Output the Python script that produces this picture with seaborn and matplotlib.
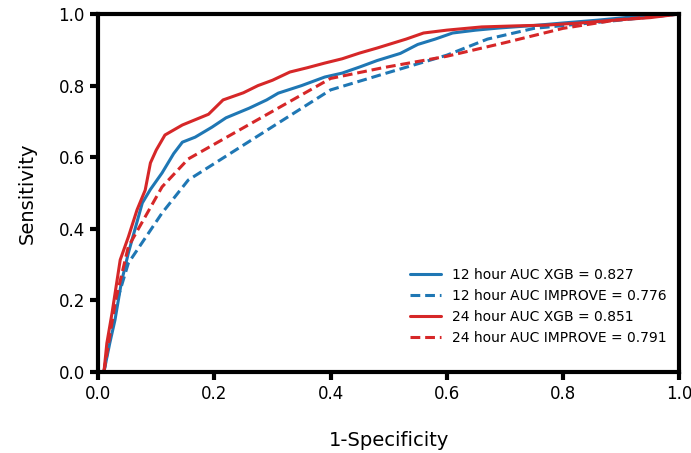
import numpy as np
import pandas as pd
import matplotlib
matplotlib.use("Agg")
import matplotlib.pyplot as plt
import seaborn as sns

# ROC points
fpr_12_xgb = [0.01, 0.02, 0.029, 0.04, 0.052, 0.076, 0.09, 0.11, 0.13, 0.145, 0.167, 0.196,
              0.22, 0.26, 0.29, 0.31, 0.35, 0.39, 0.42, 0.45, 0.48, 0.52, 0.55, 0.58, 0.61,
              0.65, 0.69, 0.75, 0.80, 0.86, 0.92, 0.96, 1.0]
tpr_12_xgb = [0.0, 0.08, 0.145, 0.25, 0.332, 0.472, 0.51, 0.556, 0.61, 0.642, 0.656, 0.684,
              0.71, 0.737, 0.76, 0.779, 0.80, 0.824, 0.835, 0.852, 0.87, 0.89, 0.915, 0.93, 0.947,
              0.955, 0.961, 0.968, 0.975, 0.983, 0.992, 0.995, 1.0]

fpr_12_imp = [0.01, 0.029, 0.052, 0.11, 0.155, 0.40, 0.49, 0.60, 0.67, 0.75, 0.88, 1.0]
tpr_12_imp = [0.0, 0.18, 0.304, 0.444, 0.536, 0.788, 0.832, 0.885, 0.93, 0.96, 0.98, 1.0]

fpr_24_xgb = [0.01, 0.015, 0.024, 0.038, 0.052, 0.067, 0.081, 0.09, 0.10, 0.115, 0.145, 0.16,
              0.19, 0.215, 0.25, 0.275, 0.30, 0.33, 0.36, 0.39, 0.42, 0.45, 0.48, 0.50, 0.53,
              0.56, 0.60, 0.66, 0.72, 0.77, 0.83, 0.89, 0.95, 1.0]
tpr_24_xgb = [0.0, 0.08, 0.165, 0.313, 0.377, 0.453, 0.508, 0.584, 0.62, 0.662, 0.69, 0.70,
              0.72, 0.76, 0.78, 0.80, 0.815, 0.838, 0.85, 0.863, 0.875, 0.891, 0.905, 0.915, 0.93,
              0.947, 0.955, 0.964, 0.967, 0.969, 0.975, 0.983, 0.99, 1.0]

fpr_24_imp = [0.01, 0.03, 0.052, 0.11, 0.155, 0.40, 0.49, 0.60, 0.70, 0.80, 0.89, 1.0]
tpr_24_imp = [0.0, 0.20, 0.35, 0.517, 0.595, 0.82, 0.85, 0.882, 0.92, 0.96, 0.983, 1.0]

labels = ["12 hour AUC XGB = 0.827", "12 hour AUC IMPROVE = 0.776",
          "24 hour AUC XGB = 0.851", "24 hour AUC IMPROVE = 0.791"]
ticks = [0.0, 0.2, 0.4, 0.6, 0.8, 1.0]

sns.set_style("ticks")
plt.rcParams['font.family'] = ['DejaVu Sans']
plt.rcParams['text.color'] = 'black'
plt.rcParams['axes.labelcolor'] = 'black'

fig = plt.figure(figsize=(6.91, 4.53), dpi=100)
ax = fig.add_axes([0.142, 0.179, 0.841, 0.790])

curves = [
    (fpr_12_xgb, tpr_12_xgb, "#1f77b4", "-"),
    (fpr_12_imp, tpr_12_imp, "#1f77b4", "--"),
    (fpr_24_xgb, tpr_24_xgb, "#d62728", "-"),
    (fpr_24_imp, tpr_24_imp, "#d62728", "--"),
]
for (fx, ty, col, ls), lab in zip(curves, labels):
    sns.lineplot(x=fx, y=ty, ax=ax, color=col, linewidth=2.2, sort=False,
                 estimator=None, label=lab)
    line = ax.get_lines()[-1]
    if ls == "--":
        line.set_dashes((3.2, 1.6))

ax.set_xlim(0, 1)
ax.set_ylim(0, 1)
ax.set_xticks(ticks)
ax.set_yticks(ticks)
ax.set_xlabel("1-Specificity", fontsize=14, labelpad=20)
ax.set_ylabel("Sensitivity", fontsize=14, labelpad=16)
ax.tick_params(width=3, length=6, labelsize=12, colors="black")
for sp in ax.spines.values():
    sp.set_visible(True)
    sp.set_linewidth(3)
    sp.set_color("black")

leg = ax.legend(loc="lower right", fontsize=10, frameon=False,
                bbox_to_anchor=(1.0, 0.04), handlelength=2.2)
for h in leg.get_lines():
    h.set_linewidth(2.2)

fig.savefig("out.png", dpi=100)
